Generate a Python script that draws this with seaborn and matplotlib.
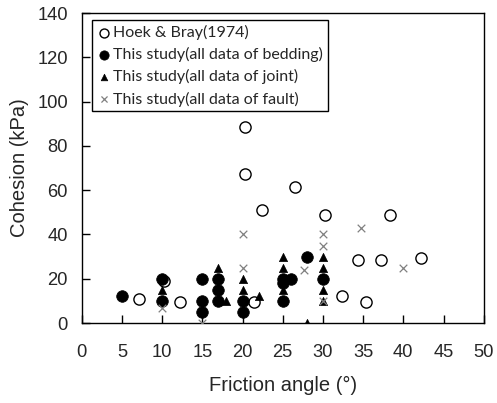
import matplotlib
matplotlib.use("Agg")
import matplotlib.pyplot as plt
import seaborn as sns
import pandas as pd

# Hoek & Bray (1974)
hb_x = [7.1, 10.2, 12.2, 20.3, 20.3, 21.4, 22.4, 26.5, 30.3, 32.4, 34.4, 35.3, 37.2, 38.3, 42.2]
hb_y = [10.7, 19.0, 9.7, 88.5, 67.5, 9.7, 51.0, 61.5, 49.0, 12.0, 28.4, 9.7, 28.4, 49.0, 29.4]

# This study - bedding
bed_x = [5, 10, 10, 15, 15, 15, 17, 17, 17, 20, 20, 25, 25, 26, 25, 28, 30]
bed_y = [12, 20, 10, 20, 10, 5, 20, 15, 10, 10, 5, 20, 18, 20, 10, 30, 20]

# This study - joint
jnt_x = [10, 17, 18, 20, 20, 22.1, 25, 25, 25, 28, 30, 30, 30, 30]
jnt_y = [15, 25, 10, 20, 15, 12, 30, 25, 15, 0, 30, 25, 15, 10]

# This study - fault
flt_x = [10, 15, 20, 20, 27.6, 30, 30, 30, 34.7, 40]
flt_y = [7, 0, 40, 25, 24, 40, 35, 10, 43, 25]

sns.set_style("white")
plt.rcParams['font.family'] = ['Liberation Sans', 'DejaVu Sans']

fig = plt.figure(figsize=(4.97, 4.03), dpi=100)
ax = fig.add_axes([81.7/497, 80/403, 402/497, 310/403])

df_hb = pd.DataFrame({"x": hb_x, "y": hb_y})
df_bed = pd.DataFrame({"x": bed_x, "y": bed_y})
df_jnt = pd.DataFrame({"x": jnt_x, "y": jnt_y})
df_flt = pd.DataFrame({"x": flt_x, "y": flt_y})

sns.scatterplot(data=df_hb, x="x", y="y", ax=ax, marker="o", s=65,
                facecolor="white", edgecolor="black", linewidth=1.0,
                label="Hoek & Bray(1974)", zorder=3)
sns.scatterplot(data=df_bed, x="x", y="y", ax=ax, marker="o", s=70,
                color="black", edgecolor="black", linewidth=0.5,
                label="This study(all data of bedding)", zorder=4)
sns.scatterplot(data=df_jnt, x="x", y="y", ax=ax, marker="^", s=35,
                color="black", edgecolor="black", linewidth=0.5,
                label="This study(all data of joint)", zorder=5)
sns.scatterplot(data=df_flt, x="x", y="y", ax=ax, marker="x", s=30,
                color="#808080", linewidth=0.9,
                label="This study(all data of fault)", zorder=6)

ax.set_xlim(0, 50)
ax.set_ylim(0, 140)
ax.set_xticks(range(0, 51, 5))
ax.set_yticks(range(0, 141, 20))
ax.tick_params(axis="x", direction="in", length=6, width=1, labelsize=13.2, pad=15, color="black")
ax.tick_params(axis="y", direction="in", length=6, width=1, labelsize=13.2, pad=10, color="black")
ax.tick_params(left=True, bottom=True)
for sp in ax.spines.values():
    sp.set_color("black")
    sp.set_linewidth(1.0)
    sp.set_visible(True)

ax.set_xlabel("Friction angle (\u00b0)", fontsize=14.5, labelpad=11)
ax.set_ylabel("Cohesion (kPa)", fontsize=14.5, labelpad=6)

leg = ax.legend(loc="upper left", bbox_to_anchor=(10/402, 1 - 7/310), frameon=True,
                fancybox=False, edgecolor="black", framealpha=1,
                prop={"family": ["Lato", "DejaVu Sans"], "size": 11.5},
                handletextpad=0.05, handlelength=1.0, borderpad=0.3,
                labelspacing=0.45, borderaxespad=0, markerscale=0.8)
leg.get_frame().set_linewidth(1.0)

fig.savefig("out.png", dpi=100)
